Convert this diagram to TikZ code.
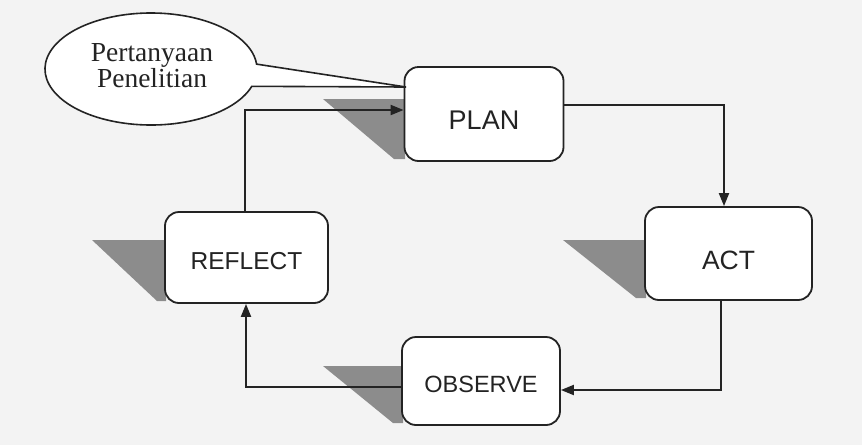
\documentclass[tikz,border=0pt]{standalone}
\usepackage{fontspec}
\setmainfont{Liberation Serif}
\setsansfont{Liberation Sans}
\usetikzlibrary{arrows.meta,calc}
\definecolor{bg}{RGB}{243,243,243}
\definecolor{ink}{RGB}{35,35,35}
\definecolor{shade}{RGB}{140,140,140}
\begin{document}
\begin{tikzpicture}[x=1pt,y=-1pt,
  box/.style={draw=ink, line width=1.8pt, fill=white, rounded corners=14pt, inner sep=0pt},
  lbl/.style={font=\sffamily\fontsize{25}{25}\selectfont, text=ink, inner sep=0pt},
  link/.style={draw=ink, line width=2pt, -{Triangle[length=13pt,width=10pt]}},
  shadowtri/.style={fill=shade}]
\fill[bg] (0,0) rectangle (862,445);
\useasboundingbox (0,0) rectangle (862,445);
% shadows
\fill[shadowtri] (323,99) -- (405,99) -- (405,159) -- (394,159) -- cycle;
\fill[shadowtri] (563,240) -- (646,240) -- (646,298) -- (636,298) -- cycle;
\fill[shadowtri] (323,366) -- (403,366) -- (403,423) -- (393,423) -- cycle;
\fill[shadowtri] (92,240) -- (166,240) -- (166,301) -- (157,301) -- cycle;
% boxes
\node[box, minimum width=159pt, minimum height=94pt] (plan) at (484,114) {};
\node[box, minimum width=167pt, minimum height=93pt] (act) at (728.5,253.5) {};
\node[box, minimum width=158pt, minimum height=88pt] (observe) at (481,381) {};
\node[box, minimum width=163pt, minimum height=91pt] (reflect) at (246.5,257.5) {};
\node[lbl] (plant) at ([yshift=-6pt]plan.center) {\fontsize{27}{27}\selectfont PLAN};
\node[lbl] (actt) at ([yshift=-6.5pt]act.center) {\fontsize{26.5}{26.5}\selectfont ACT};
\node[lbl] (observet) at ([yshift=-3pt]observe.center) {\fontsize{23.5}{23.5}\selectfont OBSERVE};
\node[lbl] (reflectt) at ([yshift=-3.5pt]reflect.center) {\fontsize{24.5}{24.5}\selectfont REFLECT};
% callout
\coordinate (tip) at (406,87);
\filldraw[draw=ink, fill=white, line width=1.6pt]
  ($(151,69)+(18:106 and 56)$) arc[start angle=18, end angle=355, x radius=106, y radius=56]
  -- (tip) -- cycle;
\node[font=\fontsize{27.5}{25}\selectfont, text=ink, align=center, inner sep=0pt] (q) at (152,66) {Pertanyaan\\Penelitian};
% connectors
\draw[link] ([xshift=-1.5pt]reflect.north) |- ([yshift=4pt]plan.west);
\draw[link] ([yshift=9pt]plan.east) -| ([xshift=-4.5pt]act.north);
\draw[link] ([xshift=-7.5pt]act.south) |- ([yshift=-9pt]observe.east);
\draw[link] ([yshift=-6pt]observe.west) -| ([xshift=-0.5pt]reflect.south);
\end{tikzpicture}
\end{document}
